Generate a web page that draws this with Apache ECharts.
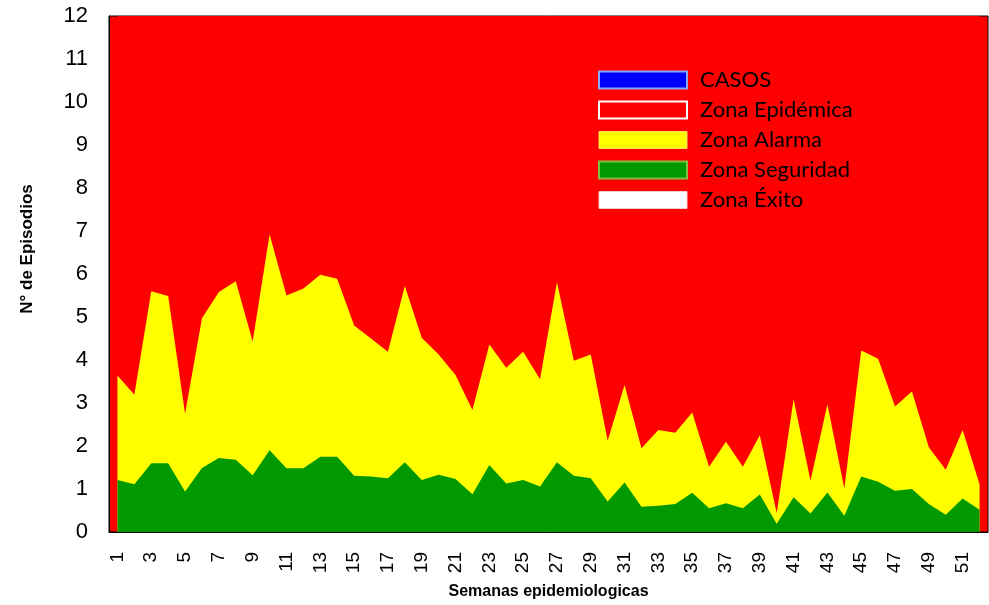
<!DOCTYPE html>
<html><head><meta charset="utf-8">
<script src="https://cdn.jsdelivr.net/npm/echarts@6/dist/echarts.min.js"></script>
<style>html,body{margin:0;padding:0;background:#fff}#c{width:989px;height:605px}</style>
</head><body><div id="c"></div>
<script>
const weeks = Array.from({length:52},(_,i)=>String(i+1));
const casos = [];
const zonaEpidemica = Array(52).fill(12);
const zonaAlarma = [3.64,3.19,5.60,5.49,2.75,4.97,5.58,5.83,4.43,6.92,5.50,5.66,5.98,5.89,4.80,4.50,4.19,5.72,4.52,4.13,3.65,2.84,4.36,3.82,4.19,3.55,5.81,3.98,4.13,2.12,3.42,1.95,2.37,2.31,2.78,1.52,2.10,1.52,2.25,0.44,3.09,1.19,2.97,1.01,4.22,4.03,2.92,3.27,1.97,1.45,2.37,1.11];
const zonaSeguridad = [1.21,1.11,1.60,1.60,0.94,1.49,1.72,1.68,1.32,1.90,1.48,1.48,1.75,1.75,1.31,1.29,1.25,1.62,1.21,1.33,1.23,0.88,1.56,1.13,1.21,1.06,1.62,1.31,1.25,0.71,1.15,0.59,0.61,0.65,0.91,0.55,0.67,0.55,0.87,0.19,0.81,0.43,0.92,0.38,1.29,1.17,0.96,1.00,0.65,0.40,0.78,0.52];
const zonaExito = Array(52).fill(0);
const yTicks = {min:0, max:12, interval:1};

const chart = echarts.init(document.getElementById('c'));
const areaSeries = (name, data, color, z) => ({
  name, type:'line', data, symbol:'none', z,
  lineStyle:{width:0, color}, itemStyle:{color}, areaStyle:{color, opacity:1}
});
chart.setOption({
  animation:false,
  grid:{left:109, right:1, top:16, bottom:72, show:true, backgroundColor:'#ff0000', borderColor:'#000', borderWidth:1},
  legend:{
    orient:'vertical', left:593, top:63, itemWidth:88, itemHeight:17, itemGap:6,
    textStyle:{fontFamily:'Lato', fontSize:22, lineHeight:20, color:'#000', padding:[4,0,0,8]},
    data:[
      {name:'CASOS', icon:'rect', itemStyle:{color:'#0000ff', borderColor:'#8fa8ff', borderWidth:2}},
      {name:'Zona Epidémica', icon:'rect', itemStyle:{color:'#ff0000', borderColor:'#ffffff', borderWidth:2}},
      {name:'Zona Alarma', icon:'rect', itemStyle:{color:'#ffff00', borderColor:'#ffe060', borderWidth:1}},
      {name:'Zona Seguridad', icon:'rect', itemStyle:{color:'#009900', borderColor:'#80c040', borderWidth:2}},
      {name:'Zona Éxito', icon:'rect', itemStyle:{color:'#ffffff', borderColor:'#f0d0d0', borderWidth:1}}
    ]
  },
  xAxis:{
    type:'category', data:weeks, boundaryGap:true,
    name:'Semanas epidemiologicas', nameLocation:'middle', nameGap:52,
    nameTextStyle:{fontFamily:'Liberation Sans', fontWeight:'bold', fontSize:16, color:'#000'},
    axisLine:{lineStyle:{color:'#000', width:1}}, axisTick:{show:false},
    axisLabel:{rotate:90, interval:1, fontFamily:'Liberation Sans', fontSize:19, color:'#000', margin:20}
  },
  yAxis:{
    type:'value', min:yTicks.min, max:yTicks.max, interval:yTicks.interval,
    name:'N° de Episodios', nameLocation:'middle', nameGap:73, nameRotate:90,
    nameTextStyle:{fontFamily:'Liberation Sans', fontWeight:'bold', fontSize:17, color:'#000', padding:[0,0,0,50]},
    axisLine:{show:true, lineStyle:{color:'#000'}}, axisTick:{show:false}, splitLine:{show:false},
    axisLabel:{fontFamily:'Liberation Sans', fontSize:22, color:'#000', margin:21}
  },
  series:[
    areaSeries('Zona Epidémica', zonaEpidemica, '#ff0000', 1),
    areaSeries('Zona Alarma', zonaAlarma, '#ffff00', 2),
    areaSeries('Zona Seguridad', zonaSeguridad, '#009900', 3),
    areaSeries('Zona Éxito', zonaExito, '#ffffff', 4),
    {name:'CASOS', type:'line', data:casos, symbol:'none', z:5, lineStyle:{color:'#0000ff', width:2}, itemStyle:{color:'#0000ff'}}
  ]
});
</script></body></html>
